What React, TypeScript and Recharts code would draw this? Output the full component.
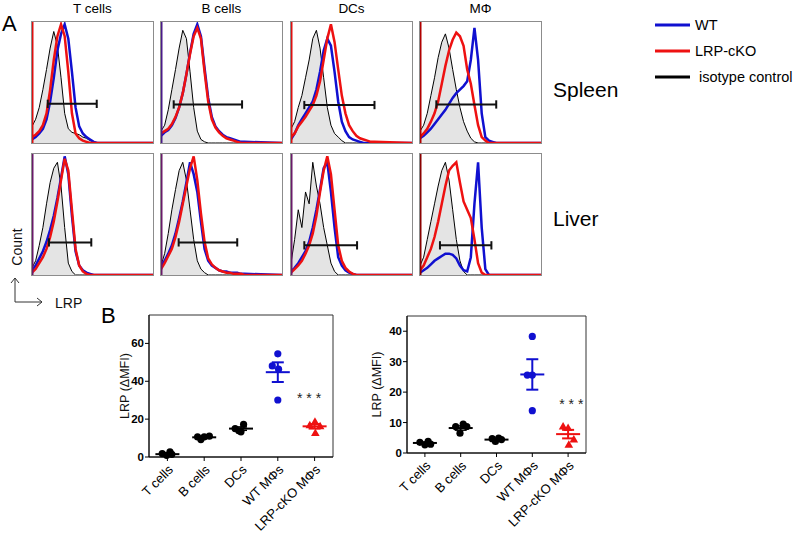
import React from 'react';
import {
  ComposedChart, Area, Line, XAxis, YAxis, ReferenceLine,
  ScatterChart, Scatter, ErrorBar, ReferenceArea, ReferenceDot,
} from 'recharts';

// ---------- Panel A: histogram data (LRP fluorescence bins, % of max count) ----------
const BINS = [0, 3, 6, 9, 12, 15, 18, 21, 24, 27, 30, 33, 36, 39, 42, 45, 48, 51, 54, 57, 60, 63, 66, 69, 100];

const T_SPLEEN_ISO = [14, 20, 30, 45, 62, 80, 94, 82, 55, 25, 12, 9, 8, 7, 5, 4, 2, 1, 0, 0, 0, 0, 0, 0, 0];
const T_SPLEEN_WT = [3, 5, 8, 12, 20, 35, 55, 78, 92, 100, 88, 60, 30, 14, 8, 5, 3, 1, 0, 0, 0, 0, 0, 0, 0];
const T_SPLEEN_KO = [5, 7, 10, 15, 25, 45, 70, 90, 100, 90, 60, 25, 8, 4, 2, 1, 0, 0, 0, 0, 0, 0, 0, 0, 0];

const B_SPLEEN_ISO = [10, 15, 28, 45, 62, 80, 95, 88, 60, 30, 10, 3, 1, 0, 0, 0, 0, 0, 0, 0, 0, 0, 0, 0, 0];
const B_SPLEEN_WT = [6, 9, 11, 15, 21, 30, 42, 58, 76, 92, 100, 90, 63, 38, 22, 14, 10, 7, 5, 4, 3, 2, 1, 1, 0];
const B_SPLEEN_KO = [8, 10, 12, 16, 22, 30, 42, 58, 75, 90, 97, 88, 60, 35, 20, 13, 9, 6, 4, 3, 2, 1, 0, 0, 0];

const DC_SPLEEN_ISO = [12, 18, 30, 40, 55, 70, 88, 95, 80, 55, 30, 15, 8, 5, 2, 0, 0, 0, 0, 0, 0, 0, 0, 0, 0];
const DC_SPLEEN_WT = [3, 8, 15, 20, 25, 30, 35, 45, 60, 78, 88, 82, 60, 35, 18, 10, 5, 3, 2, 1, 0, 0, 0, 0, 0];
const DC_SPLEEN_KO = [5, 8, 14, 18, 22, 27, 32, 40, 52, 70, 88, 100, 85, 62, 40, 25, 15, 10, 6, 4, 3, 2, 1, 1, 0];

const M_SPLEEN_ISO = [10, 15, 25, 40, 55, 72, 85, 92, 80, 62, 45, 30, 18, 10, 4, 1, 0, 0, 0, 0, 0, 0, 0, 0, 0];
const M_SPLEEN_WT = [4, 6, 9, 12, 16, 20, 24, 28, 33, 38, 42, 45, 48, 52, 70, 97, 70, 25, 5, 2, 1, 0, 0, 0, 0];
const M_SPLEEN_KO = [5, 8, 12, 18, 25, 35, 50, 65, 78, 87, 93, 90, 82, 62, 50, 32, 15, 5, 2, 0, 0, 0, 0, 0, 0];

const T_LIVER_ISO = [6, 12, 25, 40, 60, 78, 90, 95, 75, 40, 10, 3, 0, 0, 0, 0, 0, 0, 0, 0, 0, 0, 0, 0, 0];
const T_LIVER_WT = [4, 8, 14, 20, 28, 38, 50, 65, 82, 100, 85, 50, 20, 8, 4, 2, 1, 0, 0, 0, 0, 0, 0, 0, 0];
const T_LIVER_KO = [2, 5, 10, 15, 22, 32, 45, 62, 80, 98, 88, 55, 22, 8, 3, 1, 0, 0, 0, 0, 0, 0, 0, 0, 0];

const B_LIVER_ISO = [8, 18, 35, 55, 72, 88, 95, 80, 55, 30, 12, 5, 2, 0, 0, 0, 0, 0, 0, 0, 0, 0, 0, 0, 0];
const B_LIVER_WT = [8, 12, 18, 25, 35, 48, 62, 78, 95, 85, 70, 45, 22, 12, 8, 6, 4, 3, 3, 2, 2, 2, 1, 1, 0];
const B_LIVER_KO = [5, 10, 16, 22, 32, 45, 60, 75, 90, 100, 80, 52, 28, 14, 9, 6, 4, 3, 2, 2, 1, 1, 1, 0, 0];

const DC_LIVER_ISO = [10, 30, 55, 40, 70, 60, 95, 75, 60, 40, 25, 10, 3, 0, 0, 0, 0, 0, 0, 0, 0, 0, 0, 0, 0];
const DC_LIVER_WT = [3, 6, 10, 15, 20, 28, 40, 55, 72, 90, 95, 70, 40, 15, 8, 4, 2, 1, 0, 0, 0, 0, 0, 0, 0];
const DC_LIVER_KO = [2, 5, 8, 12, 18, 25, 35, 50, 70, 88, 100, 85, 55, 25, 12, 6, 3, 1, 0, 0, 0, 0, 0, 0, 0];

const M_LIVER_ISO = [8, 15, 30, 45, 60, 75, 88, 95, 80, 55, 30, 12, 3, 0, 0, 0, 0, 0, 0, 0, 0, 0, 0, 0, 0];
const M_LIVER_WT = [2, 4, 6, 9, 12, 14, 16, 18, 18, 17, 14, 8, 4, 3, 15, 60, 95, 40, 5, 0, 0, 0, 0, 0, 0];
const M_LIVER_KO = [4, 8, 15, 22, 32, 45, 60, 75, 88, 92, 95, 78, 62, 55, 48, 30, 10, 2, 0, 0, 0, 0, 0, 0, 0];

// gates: [start, end, height]
const GATE_T_SPLEEN = [13, 53.5, 33];
const GATE_B_SPLEEN = [10.5, 67, 32.5];
const GATE_DC_SPLEEN = [11, 69, 32];
const GATE_M_SPLEEN = [13.5, 63, 32.5];
const GATE_T_LIVER = [14, 49, 27.5];
const GATE_B_LIVER = [14.6, 63, 27.5];
const GATE_DC_LIVER = [11, 54.6, 25];
const GATE_M_LIVER = [16.5, 59, 25];

const CELL_TITLES = ['T cells', 'B cells', 'DCs', 'MΦ'];
const ORGANS = ['Spleen', 'Liver'];
const LEGEND_LABELS = ['WT', 'LRP-cKO', 'isotype control'];

// ---------- Panel B: ΔMFI dot plots ----------
const CATEGORIES = ['T cells', 'B cells', 'DCs', 'WT MΦs', 'LRP-cKO MΦs'];
const CAT_POS = [1, 2, 3, 4, 5];

// [jitter, value]
const LEFT_T = [[-0.14, 1.8], [-0.02, 0.9], [0.07, 2.7], [0.12, 1.4]];
const LEFT_B = [[-0.18, 10.6], [-0.09, 9.2], [0, 10.6], [0.14, 11]];
const LEFT_DC = [[-0.16, 15], [-0.06, 13.8], [0, 13.3], [0.07, 17.2]];
const LEFT_WT = [[-0.15, 48.1], [0, 54.5], [0.02, 46.4], [0, 30.1]];
const LEFT_KO = [[0.01, 18.6], [-0.13, 16.8], [0.15, 16.3], [0.02, 12.7]];
const LEFT_MEAN = [1.5, 10.4, 15, 44.8, 16.2];
const LEFT_SEM = [0.4, 0.4, 0.9, 5.2, 1.2];

const RIGHT_T = [[-0.14, 3.5], [0, 2.7], [0.09, 3.8], [0.16, 2.9]];
const RIGHT_B = [[-0.14, 8.7], [-0.02, 6.5], [0.07, 9.5], [0.17, 8.7]];
const RIGHT_DC = [[-0.12, 4.7], [-0.03, 3.8], [0.06, 4.9], [0.14, 4.4]];
const RIGHT_WT = [[0, 38.3], [-0.14, 25.6], [0, 25.6], [0, 13.9]];
const RIGHT_KO = [[-0.14, 8.7], [0, 8.2], [0.16, 4.4], [0.02, 2.7]];
const RIGHT_MEAN = [3.3, 8.2, 4.4, 25.8, 6.2];
const RIGHT_SEM = [0.3, 0.7, 0.3, 5.0, 1.4];

const LEFT_Y_TICKS = [0, 20, 40, 60];
const RIGHT_Y_TICKS = [0, 10, 20, 30, 40];

const BLUE = '#1010d0';
const RED = '#ee1111';
const FONT = '"Liberation Sans", Arial, sans-serif';

type HistProps = {
  left: number; top: number; iso: number[]; wt: number[]; ko: number[];
  gate: number[]; edge: string;
};

function Histogram({ left, top, iso, wt, ko, gate, edge }: HistProps) {
  const data = BINS.map((x, i) => ({ x, iso: iso[i], wt: wt[i], ko: ko[i] }));
  const [g1, g2, gy] = gate;
  return (
    <div style={{ position: 'absolute', left, top, width: 123, height: 123, border: '1px solid #8c8c8c', boxSizing: 'border-box', background: '#fff' }}>
      <ComposedChart width={121} height={121} data={data} margin={{ top: 0, right: 0, bottom: 0, left: 0 }}>
        <XAxis dataKey="x" type="number" domain={[0, 100]} hide />
        <YAxis type="number" domain={[0, 102]} hide />
        <Area type="linear" dataKey="iso" stroke="#000" strokeWidth={1} fill="#e4e4e4" fillOpacity={1} isAnimationActive={false} dot={false} />
        <Line type="linear" dataKey="wt" stroke={BLUE} strokeWidth={2.5} dot={false} isAnimationActive={false} />
        <Line type="linear" dataKey="ko" stroke={RED} strokeWidth={2.5} dot={false} isAnimationActive={false} />
        <ReferenceLine x={0} stroke={edge} strokeWidth={3} />
        <ReferenceLine segment={[{ x: g1, y: gy }, { x: g2, y: gy }]} stroke="#111" strokeWidth={2} />
        <ReferenceLine segment={[{ x: g1, y: gy - 3.5 }, { x: g1, y: gy + 3.5 }]} stroke="#111" strokeWidth={2} />
        <ReferenceLine segment={[{ x: g2, y: gy - 3.5 }, { x: g2, y: gy + 3.5 }]} stroke="#111" strokeWidth={2} />
      </ComposedChart>
    </div>
  );
}

type DotProps = {
  left: number; top: number; width: number; height: number; yMax: number; yTicks: number[];
  groups: number[][][]; means: number[]; sems: number[]; starY: number; starX: number; labelOffset: number;
};

const meanShape = (color: string) => (p: any) => (
  <line x1={p.cx - 12} x2={p.cx + 12} y1={p.cy} y2={p.cy} stroke={color} strokeWidth={2} />
);
const dotShape = (color: string) => (p: any) => <circle cx={p.cx} cy={p.cy} r={3.6} fill={color} />;
const triShape = (color: string) => (p: any) => (
  <polygon points={`${p.cx},${p.cy - 4.5} ${p.cx + 4.3},${p.cy + 3} ${p.cx - 4.3},${p.cy + 3}`} fill={color} />
);

function DotPlot({ left, top, width, height, yMax, yTicks, groups, means, sems, starY, starX, labelOffset }: DotProps) {
  const pts = (gi: number) => groups[gi].map(([j, v]) => ({ x: CAT_POS[gi] + j, y: v }));
  const blackPts = [...pts(0), ...pts(1), ...pts(2)];
  const meanBlack = [0, 1, 2].map((i) => ({ x: CAT_POS[i], y: means[i], err: sems[i] }));
  const meanWT = [{ x: CAT_POS[3], y: means[3], err: sems[3] }];
  const meanKO = [{ x: CAT_POS[4], y: means[4], err: sems[4] }];
  return (
    <div style={{ position: 'absolute', left, top }}>
      <ScatterChart width={width} height={height} margin={{ top: 10, right: 5, bottom: 0, left: 0 }}>
        <XAxis
          type="number" dataKey="x" domain={[0.5, 5.5]} ticks={CAT_POS}
          tickFormatter={(v: number) => CATEGORIES[v - 1]}
          interval={0} height={90} angle={-45} textAnchor="end"
          tick={{ fill: '#000', fontSize: 13 }} tickSize={4} tickMargin={3}
          axisLine={{ stroke: '#000' }} tickLine={{ stroke: '#000' }}
        />
        <YAxis
          type="number" dataKey="y" domain={[0, yMax]} ticks={yTicks} width={51}
          tick={{ fill: '#000', fontSize: 11.5, fontWeight: 'bold' }} tickSize={4} tickMargin={1}
          axisLine={{ stroke: '#000' }} tickLine={{ stroke: '#000' }}
          label={{ value: 'LRP (ΔMFI)', angle: -90, position: 'insideLeft', offset: labelOffset, style: { textAnchor: 'middle', fontSize: 12.5, fill: '#111' } }}
        />
        <ReferenceArea x1={0.5} x2={5.5} y1={0} y2={yMax} fill="none" stroke="#333" strokeWidth={1} />
        <Scatter data={blackPts} shape={dotShape('#000')} isAnimationActive={false} />
        <Scatter data={pts(3)} shape={dotShape(BLUE)} isAnimationActive={false} />
        <Scatter data={pts(4)} shape={triShape(RED)} isAnimationActive={false} />
        <Scatter data={meanBlack} shape={meanShape('#000')} isAnimationActive={false}>
          <ErrorBar dataKey="err" direction="y" width={6} stroke="#000" strokeWidth={1.5} />
        </Scatter>
        <Scatter data={meanWT} shape={meanShape(BLUE)} isAnimationActive={false}>
          <ErrorBar dataKey="err" direction="y" width={6} stroke={BLUE} strokeWidth={2} />
        </Scatter>
        <Scatter data={meanKO} shape={meanShape(RED)} isAnimationActive={false}>
          <ErrorBar dataKey="err" direction="y" width={6} stroke={RED} strokeWidth={2} />
        </Scatter>
        <ReferenceDot x={starX} y={starY} r={0} stroke="none" fill="none"
          label={{ value: '* * *', position: 'center', fontSize: 14, fill: '#222' }} />
      </ScatterChart>
    </div>
  );
}

export default function App() {
  const colX = [31, 160, 290, 419];
  const rowY = [21, 153];
  return (
    <div style={{ position: 'absolute', left: 0, top: 0, width: 794, height: 549, background: '#fff', fontFamily: FONT, overflow: 'hidden' }}>
      {/* Panel A */}
      <div style={{ position: 'absolute', left: 2, top: 10, fontSize: 22, lineHeight: '28px' }}>A</div>
      {CELL_TITLES.map((t, i) => (
        <div key={t} style={{ position: 'absolute', left: colX[i], top: 1, width: 123, textAlign: 'center', fontSize: 13.5, lineHeight: '16px' }}>{t}</div>
      ))}
      <Histogram left={colX[0]} top={rowY[0]} iso={T_SPLEEN_ISO} wt={T_SPLEEN_WT} ko={T_SPLEEN_KO} gate={GATE_T_SPLEEN} edge="#e01010" />
      <Histogram left={colX[1]} top={rowY[0]} iso={B_SPLEEN_ISO} wt={B_SPLEEN_WT} ko={B_SPLEEN_KO} gate={GATE_B_SPLEEN} edge="#4a1a8a" />
      <Histogram left={colX[2]} top={rowY[0]} iso={DC_SPLEEN_ISO} wt={DC_SPLEEN_WT} ko={DC_SPLEEN_KO} gate={GATE_DC_SPLEEN} edge="#e01010" />
      <Histogram left={colX[3]} top={rowY[0]} iso={M_SPLEEN_ISO} wt={M_SPLEEN_WT} ko={M_SPLEEN_KO} gate={GATE_M_SPLEEN} edge="#b00000" />
      <Histogram left={colX[0]} top={rowY[1]} iso={T_LIVER_ISO} wt={T_LIVER_WT} ko={T_LIVER_KO} gate={GATE_T_LIVER} edge="#6a1a6a" />
      <Histogram left={colX[1]} top={rowY[1]} iso={B_LIVER_ISO} wt={B_LIVER_WT} ko={B_LIVER_KO} gate={GATE_B_LIVER} edge="#6a1a6a" />
      <Histogram left={colX[2]} top={rowY[1]} iso={DC_LIVER_ISO} wt={DC_LIVER_WT} ko={DC_LIVER_KO} gate={GATE_DC_LIVER} edge="#6a1a6a" />
      <Histogram left={colX[3]} top={rowY[1]} iso={M_LIVER_ISO} wt={M_LIVER_WT} ko={M_LIVER_KO} gate={GATE_M_LIVER} edge="#8a0000" />
      <div style={{ position: 'absolute', left: 553, top: 77, fontSize: 21, lineHeight: '26px' }}>{ORGANS[0]}</div>
      <div style={{ position: 'absolute', left: 553, top: 206, fontSize: 21, lineHeight: '26px' }}>{ORGANS[1]}</div>

      {/* Legend + axis arrows */}
      <svg width={794} height={549} style={{ position: 'absolute', left: 0, top: 0, pointerEvents: 'none' }}>
        <line x1={655} x2={690} y1={25} y2={25} stroke={BLUE} strokeWidth={3} />
        <line x1={655} x2={690} y1={51} y2={51} stroke={RED} strokeWidth={3} />
        <line x1={655} x2={690} y1={77} y2={77} stroke="#000" strokeWidth={3} />
        <text x={695} y={30} fontSize={14.5} fill="#000">{LEGEND_LABELS[0]}</text>
        <text x={695} y={56} fontSize={14.5} fill="#000">{LEGEND_LABELS[1]}</text>
        <text x={699} y={82} fontSize={14.5} fill="#000">{LEGEND_LABELS[2]}</text>
        <text transform="translate(22,247) rotate(-90)" textAnchor="middle" fontSize={14} fill="#111">Count</text>
        <polyline points="15,278 15,302 42,302" fill="none" stroke="#333" strokeWidth={1} />
        <polyline points="11,283 15,278 19,283" fill="none" stroke="#333" strokeWidth={1} />
        <polyline points="37,298 42,302 37,306" fill="none" stroke="#333" strokeWidth={1} />
        <text x={55} y={308} fontSize={14} fill="#111">LRP</text>
      </svg>

      {/* Panel B */}
      <div style={{ position: 'absolute', left: 101, top: 302, fontSize: 22, lineHeight: '28px' }}>B</div>
      <DotPlot left={98} top={305} width={240} height={242} yMax={75} yTicks={LEFT_Y_TICKS}
        groups={[LEFT_T, LEFT_B, LEFT_DC, LEFT_WT, LEFT_KO]} means={LEFT_MEAN} sems={LEFT_SEM}
        starX={4.85} starY={31.3} labelOffset={27} />
      <DotPlot left={356} top={306} width={235} height={237} yMax={45} yTicks={RIGHT_Y_TICKS}
        groups={[RIGHT_T, RIGHT_B, RIGHT_DC, RIGHT_WT, RIGHT_KO]} means={RIGHT_MEAN} sems={RIGHT_SEM}
        starX={5.09} starY={16} labelOffset={21} />
    </div>
  );
}
